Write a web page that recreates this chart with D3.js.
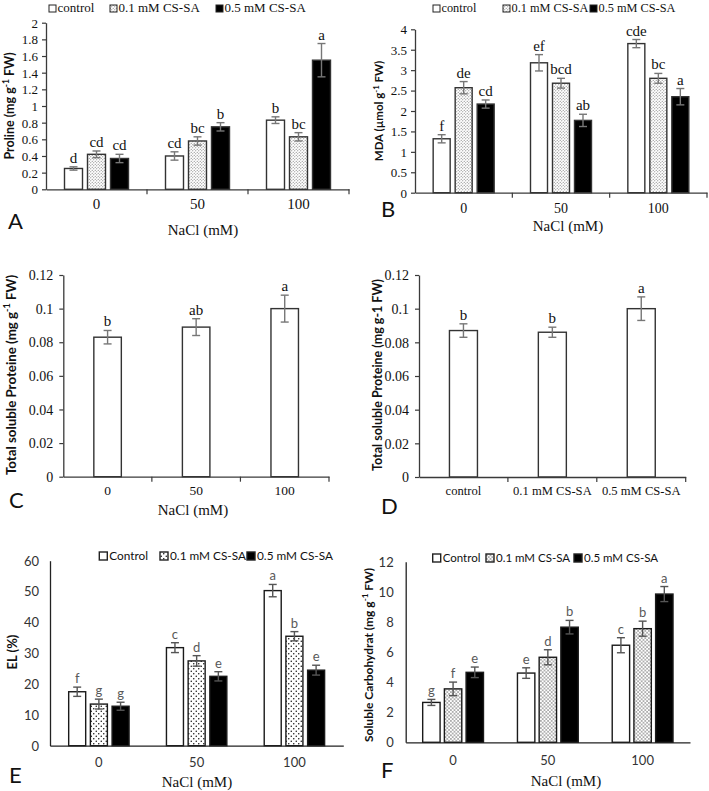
<!DOCTYPE html>
<html><head><meta charset="utf-8">
<script src="https://cdn.jsdelivr.net/npm/d3@7"></script>
<style>body{margin:0;background:#fff}svg{display:block}</style>
</head><body><svg id="c" width="709" height="791"></svg>
<script>
// ---------- DATA ----------
const naclLevels = ["0", "50", "100"];
const seriesAB = ["control", "0.1 mM CS-SA", "0.5 mM CS-SA"];
const seriesEF = ["Control", "0.1 mM CS-SA", "0.5 mM CS-SA"];

// rows = treatment series, columns = NaCl level
const prolineMean = [[0.25, 0.40, 0.83], [0.42, 0.58, 0.63], [0.37, 0.75, 1.55]];
const prolineErr = [[0.02, 0.05, 0.04], [0.04, 0.05, 0.05], [0.05, 0.05, 0.20]];
const prolineLetters = [["d", "cd", "b"], ["cd", "bc", "bc"], ["cd", "b", "a"]];
const prolineTicks = [0, 0.2, 0.4, 0.6, 0.8, 1, 1.2, 1.4, 1.6, 1.8, 2];

const mdaMean = [[1.32, 3.18, 3.65], [2.57, 2.68, 2.80], [2.17, 1.77, 2.35]];
const mdaErr = [[0.10, 0.20, 0.10], [0.15, 0.12, 0.12], [0.10, 0.15, 0.20]];
const mdaLetters = [["f", "ef", "cde"], ["de", "bcd", "bc"], ["cd", "ab", "a"]];
const mdaTicks = [0, 0.5, 1, 1.5, 2, 2.5, 3, 3.5, 4];

const proteinNaclMean = [0.083, 0.089, 0.100];
const proteinNaclErr = [0.004, 0.005, 0.008];
const proteinNaclLetters = ["b", "ab", "a"];
const proteinTreatMean = [0.087, 0.086, 0.100];
const proteinTreatErr = [0.004, 0.003, 0.007];
const proteinTreatLetters = ["b", "b", "a"];
const proteinTicks = [0, 0.02, 0.04, 0.06, 0.08, 0.1, 0.12];

const elMean = [[17.5, 31.8, 50.3], [13.5, 27.5, 35.5], [12.8, 22.5, 24.5]];
const elErr = [[1.5, 1.6, 2.0], [1.6, 1.7, 1.5], [1.3, 1.5, 1.6]];
const elLetters = [["f", "c", "a"], ["g", "d", "b"], ["g", "e", "e"]];
const elTicks = [0, 10, 20, 30, 40, 50, 60];

const carbMean = [[2.65, 4.6, 6.45], [3.55, 5.65, 7.55], [4.65, 7.65, 9.85]];
const carbErr = [[0.2, 0.35, 0.5], [0.45, 0.5, 0.5], [0.35, 0.45, 0.5]];
const carbLetters = [["g", "e", "c"], ["f", "d", "b"], ["e", "b", "a"]];
const carbTicks = [0, 2, 4, 6, 8, 10, 12];

// ---------- DRAWING ----------
const SERIF = "'Liberation Serif','Times New Roman',serif";
const SANS = "Lato,'Liberation Sans',sans-serif";
const svg = d3.select("#c");
svg.append("rect").attr("width", 709).attr("height", 791).attr("fill", "#fff");
const defs = svg.append("defs");
function dotPattern(id, step, r, color) {
  const p = defs.append("pattern").attr("id", id).attr("patternUnits", "userSpaceOnUse")
    .attr("width", step).attr("height", step);
  p.append("rect").attr("width", step).attr("height", step).attr("fill", "#fff");
  p.append("circle").attr("cx", step / 4).attr("cy", step / 4).attr("r", r).attr("fill", color);
  p.append("circle").attr("cx", step * 3 / 4).attr("cy", step * 3 / 4).attr("r", r).attr("fill", color);
}
dotPattern("dotAB", 3, 0.6, "#777");
dotPattern("dotE", 5, 0.75, "#111");
dotPattern("dotF", 3.6, 0.65, "#333");

const fillsAB = ["#fff", "url(#dotAB)", "#000"];
const fillsE = ["#fff", "url(#dotE)", "#000"];
const fillsF = ["#fff", "url(#dotF)", "#000"];

function yLabel(g, c) {
  const t = g.append("text").attr("transform", `translate(${c.x},${c.y}) rotate(-90)`)
    .attr("text-anchor", "middle").attr("font-family", SANS).attr("font-weight", 700)
    .attr("font-size", c.fs).attr("fill", "#111");
  c.parts.forEach(p => {
    const ts = t.append("tspan").text(p.t);
    if (p.sup) ts.attr("font-size", c.fs * 0.68).attr("dy", -c.fs * 0.38);
    if (p.after) ts.attr("dy", c.fs * 0.38);
  });
}

function drawPanel(c) {
  const g = svg.append("g");
  const x = d3.scaleBand().domain(c.cats).range([c.x0, c.x1]);
  const y = d3.scaleLinear().domain([0, c.yMax]).range([c.yB, c.yT]);
  const nS = c.means.length;
  const gw = nS * c.barW + (nS - 1) * c.gap;
  const inner = d3.scaleBand().domain(d3.range(nS)).range([-gw / 2, gw / 2])
    .paddingInner(nS > 1 ? c.gap / (c.barW + c.gap) : 0);

  // y axis
  const ya = g.append("g").attr("transform", `translate(${c.x0},0)`)
    .call(d3.axisLeft(y).tickValues(c.ticks).tickFormat(d => String(d))
      .tickSize(c.yTick).tickSizeOuter(0).tickPadding(c.yPad));
  ya.attr("color", c.axisColor);
  ya.select(".domain").attr("stroke-width", 1.3);
  ya.selectAll(".tick line").attr("stroke-width", 1.2);
  ya.selectAll("text").attr("font-family", c.tickFont).attr("font-size", c.tickFs)
    .attr("fill", c.tickColor).attr("dy", "0.34em");

  // bars
  c.means.forEach((row, s) => {
    const bars = g.append("g");
    bars.selectAll("rect").data(row).join("rect")
      .attr("x", (v, i) => x(c.cats[i]) + x.bandwidth() / 2 + inner(s))
      .attr("y", v => y(v))
      .attr("width", inner.bandwidth())
      .attr("height", v => y(0) - y(v))
      .attr("fill", c.fills[s])
      .attr("stroke", c.barStroke).attr("stroke-width", 1.4);
  });

  // x axis
  const xa = g.append("g").attr("transform", `translate(0,${c.yB})`)
    .call(d3.axisBottom(x).tickSize(0).tickSizeOuter(0).tickPadding(0));
  xa.attr("color", c.axisColor);
  xa.select(".domain").attr("stroke-width", 1.3);
  xa.selectAll("text").attr("font-family", c.xFont).attr("font-size", c.xFs)
    .attr("fill", c.tickColor).attr("dy", null).attr("y", c.xLabY - c.yB);
  if (c.xTicks) {
    const bounds = c.cats.slice(1).map(k => x(k)).concat([x.range()[1]]);
    g.append("g").selectAll("line").data(bounds).join("line")
      .attr("x1", d => d).attr("x2", d => d).attr("y1", c.yB).attr("y2", c.yB + 5)
      .attr("stroke", c.axisColor).attr("stroke-width", 1.2);
  }

  // error bars + letters
  c.means.forEach((row, s) => {
    row.forEach((v, i) => {
      const cx = x(c.cats[i]) + x.bandwidth() / 2 + inner(s) + inner.bandwidth() / 2;
      const e = c.errs[s][i];
      const eg = g.append("g").attr("stroke", c.errColor).attr("stroke-width", 1.4);
      eg.append("line").attr("x1", cx).attr("x2", cx).attr("y1", y(v - e)).attr("y2", y(v + e));
      eg.append("line").attr("x1", cx - 4).attr("x2", cx + 4).attr("y1", y(v - e)).attr("y2", y(v - e));
      eg.append("line").attr("x1", cx - 4).attr("x2", cx + 4).attr("y1", y(v + e)).attr("y2", y(v + e));
      g.append("text").attr("x", cx).attr("y", y(v + e) - c.letterGap).attr("text-anchor", "middle")
        .attr("font-family", c.letterFont).attr("font-size", c.letterFs).attr("fill", c.letterColor)
        .text(c.letters[s][i]);
    });
  });

  // legend
  if (c.legend) {
    const L = c.legend;
    L.xs.forEach((lx, k) => {
      g.append("rect").attr("x", lx).attr("y", L.y - L.box).attr("width", L.box).attr("height", L.box)
        .attr("fill", c.fills[k]).attr("stroke", "#222").attr("stroke-width", L.sw);
      g.append("text").attr("x", lx + L.box + L.pad).attr("y", L.y)
        .attr("font-family", L.font).attr("font-size", L.fs).attr("fill", "#111").text(L.labels[k]);
    });
  }

  // axis title, panel letter, y label
  if (c.xTitle) {
    g.append("text").attr("x", c.xTitle.x).attr("y", c.xTitle.y).attr("text-anchor", "middle")
      .attr("font-family", SERIF).attr("font-size", c.xTitle.fs).attr("fill", "#111").text(c.xTitle.text);
  }
  g.append("text").attr("x", c.panel.x).attr("y", c.panel.y).attr("font-family", SANS)
    .attr("font-size", 22).attr("fill", "#111").text(c.panel.text);
  yLabel(g, c.yLabel);
}

const supParts = (pre) => [{ t: pre + " (mg g" }, { t: "-1", sup: true }, { t: " FW)", after: true }];

const serifBase = {
  axisColor: "#3a3a3a", tickFont: SERIF, tickColor: "#111", xFont: SERIF, yTick: 4, xTicks: true,
  barStroke: "#333", errColor: "#777", letterFont: SERIF, letterFs: 15, letterColor: "#111", letterGap: 4
};
const sansBase = {
  axisColor: "#222", tickFont: SANS, tickColor: "#333", xFont: SANS, yTick: 0, xTicks: false,
  barStroke: "#1a1a1a", errColor: "#555", letterFont: SANS, letterFs: 13, letterColor: "#595959", letterGap: 4
};

// Panel A
drawPanel(Object.assign({}, serifBase, {
  x0: 46, x1: 349, yB: 189.3, yT: 22.7, yMax: 2, ticks: prolineTicks, tickFs: 13, yPad: 4,
  cats: naclLevels, means: prolineMean, errs: prolineErr, letters: prolineLetters, fills: fillsAB,
  barW: 18, gap: 5, xLabY: 209, xFs: 15,
  legend: { y: 12, xs: [49, 110, 216], box: 7, pad: 1.5, sw: 1, font: SERIF, fs: 13, labels: seriesAB },
  xTitle: { x: 203, y: 235, fs: 15, text: "NaCl (mM)" },
  panel: { x: 8, y: 229, text: "A" },
  yLabel: { x: 13.5, y: 106, fs: 12.5, parts: supParts("Proline") }
}));

// Panel B
drawPanel(Object.assign({}, serifBase, {
  x0: 415, x1: 707, yB: 192.7, yT: 29.3, yMax: 4, ticks: mdaTicks, tickFs: 13, yPad: 4,
  cats: naclLevels, means: mdaMean, errs: mdaErr, letters: mdaLetters, fills: fillsAB,
  barW: 17, gap: 5, xLabY: 213, xFs: 14,
  legend: { y: 12, xs: [433, 503, 590], box: 7, pad: 1.5, sw: 1, font: SERIF, fs: 12.3, labels: seriesAB },
  xTitle: { x: 568, y: 231, fs: 15, text: "NaCl (mM)" },
  panel: { x: 381, y: 217, text: "B" },
  yLabel: { x: 383, y: 111, fs: 11.5, parts: [{ t: "MDA (µmol g" }, { t: "-1", sup: true }, { t: " FW)", after: true }] }
}));

// Panel C
drawPanel(Object.assign({}, serifBase, {
  x0: 63.3, x1: 329, yB: 476.7, yT: 275, yMax: 0.12, ticks: proteinTicks, tickFs: 14, yPad: 6,
  cats: naclLevels, means: [proteinNaclMean], errs: [proteinNaclErr], letters: [proteinNaclLetters],
  fills: ["#fff"], barW: 27.5, gap: 0, xLabY: 495, xFs: 13.5,
  xTitle: { x: 193, y: 515, fs: 15, text: "NaCl (mM)" },
  panel: { x: 9, y: 508, text: "C" },
  yLabel: { x: 15.5, y: 375, fs: 13.3, parts: supParts("Total soluble Proteine") }
}));

// Panel D
drawPanel(Object.assign({}, serifBase, {
  x0: 419, x1: 685.7, yB: 477, yT: 275, yMax: 0.12, ticks: proteinTicks, tickFs: 14, yPad: 6,
  cats: seriesAB, means: [proteinTreatMean], errs: [proteinTreatErr], letters: [proteinTreatLetters],
  fills: ["#fff"], barW: 28, gap: 0, xLabY: 495, xFs: 12.6,
  panel: { x: 381, y: 514, text: "D" },
  yLabel: { x: 382, y: 375, fs: 12.5, parts: [{ t: "Total soluble Proteine (mg g-1 FW)" }] }
}));

// Panel E
drawPanel(Object.assign({}, sansBase, {
  x0: 50, x1: 343.3, yB: 745.7, yT: 560.7, yMax: 60, ticks: elTicks, tickFs: 13, yPad: 11,
  cats: naclLevels, means: elMean, errs: elErr, letters: elLetters, fills: fillsE,
  barW: 17, gap: 4.7, xLabY: 767, xFs: 13,
  legend: { y: 560, xs: [99.3, 160, 247], box: 8, pad: 2, sw: 1.4, font: SANS, fs: 11.8, labels: seriesEF },
  xTitle: { x: 197, y: 787, fs: 15, text: "NaCl (mM)" },
  panel: { x: 9, y: 783, text: "E" },
  yLabel: { x: 17, y: 652, fs: 13, parts: [{ t: "EL (%)" }] }
}));

// Panel F
drawPanel(Object.assign({}, sansBase, {
  x0: 405.7, x1: 690, yB: 742.3, yT: 561.7, yMax: 12, ticks: carbTicks, tickFs: 13, yPad: 12,
  cats: naclLevels, means: carbMean, errs: carbErr, letters: carbLetters, fills: fillsF,
  barW: 17.4, gap: 4.3, xLabY: 765, xFs: 13,
  legend: { y: 562, xs: [432.7, 486, 574], box: 8, pad: 2, sw: 1.4, font: SANS, fs: 11.5, labels: seriesEF },
  xTitle: { x: 566, y: 786, fs: 15, text: "NaCl (mM)" },
  panel: { x: 381, y: 778, text: "F" },
  yLabel: { x: 373, y: 655, fs: 12, parts: supParts("Soluble Carbohydrat") }
}));
</script></body></html>
